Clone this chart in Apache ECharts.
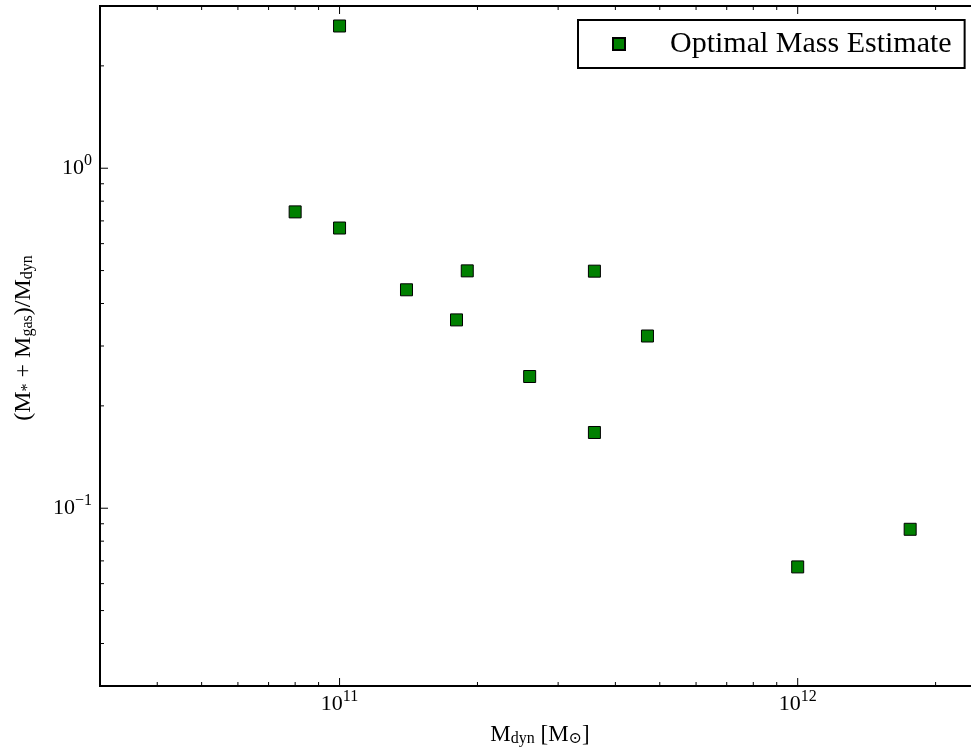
<!DOCTYPE html>
<html><head><meta charset="utf-8">
<script src="https://cdn.jsdelivr.net/npm/echarts@6/dist/echarts.min.js"></script>
<style>html,body{margin:0;padding:0;background:#fff}#c{width:971px;height:751px}</style>
</head><body><div id="c"></div>
<script>
// ---- data ----
const massDyn   = [1e11, 8e10, 1e11, 1.4e11, 1.9e11, 1.8e11, 3.6e11, 4.7e11, 2.6e11, 3.6e11, 1e12, 1.76e12];
const massRatio = [2.62, 0.744, 0.667, 0.439, 0.499, 0.358, 0.498, 0.321, 0.244, 0.167, 0.0672, 0.0867];
const seriesName = 'Optimal Mass Estimate';

const xMin = 3e10, xMax = 2.5e12, yMin = 0.03, yMax = 3;
const xMajorTicks = [1e11, 1e12];
const xMajorLabels = ['11', '12'];
const xMinorTicks = [4e10, 5e10, 6e10, 7e10, 8e10, 9e10, 2e11, 3e11, 4e11, 5e11, 6e11, 7e11, 8e11, 9e11, 2e12];
const yMajorTicks = [0.1, 1];
const yMajorLabels = ['\u22121', '0'];
const yMinorTicks = [0.04, 0.05, 0.06, 0.07, 0.08, 0.09, 0.2, 0.3, 0.4, 0.5, 0.6, 0.7, 0.8, 0.9, 2];

// ---- styling ----
const FONT = '"Liberation Serif", "DejaVu Serif", serif';
const MAJOR = 8, MINOR = 4;

function xTicks(len) {
  return function (params, api) {
    const cs = params.coordSys;
    const px = api.coord([api.value(0), yMin])[0];
    const st = { stroke: '#000', lineWidth: 1 };
    return { type: 'group', children: [
      { type: 'line', shape: { x1: px, y1: cs.y + cs.height, x2: px, y2: cs.y + cs.height - len }, style: st },
      { type: 'line', shape: { x1: px, y1: cs.y, x2: px, y2: cs.y + len }, style: st }
    ]};
  };
}
function yTicks(len) {
  return function (params, api) {
    const cs = params.coordSys;
    const py = api.coord([xMin, api.value(1)])[1];
    const st = { stroke: '#000', lineWidth: 1 };
    return { type: 'group', children: [
      { type: 'line', shape: { x1: cs.x, y1: py, x2: cs.x + len, y2: py }, style: st },
      { type: 'line', shape: { x1: cs.x + cs.width, y1: py, x2: cs.x + cs.width - len, y2: py }, style: st }
    ]};
  };
}
const tickRich = {
  b: { fontSize: 22, lineHeight: 30, fontFamily: FONT, color: '#000' },
  s: { fontSize: 16, lineHeight: 16, fontFamily: FONT, color: '#000', verticalAlign: 'top' }
};

const chart = echarts.init(document.getElementById('c'));
chart.setOption({
  backgroundColor: '#fff',
  animation: false,
  grid: { left: 100, top: 6, width: 880, height: 680, outerBoundsMode: 'none', containLabel: false,
          show: true, borderColor: '#000', borderWidth: 2, backgroundColor: 'transparent' },
  legend: {
    data: [seriesName],
    left: 578, top: 20,
    backgroundColor: '#fff',
    borderColor: '#000', borderWidth: 2, borderRadius: 0,
    padding: [8, 13, 8, 34],
    itemWidth: 12, itemHeight: 12,
    textStyle: { fontFamily: FONT, fontSize: 30, color: '#000', lineHeight: 32, padding: [0, 0, 0, 40] }
  },
  xAxis: {
    type: 'log', logBase: 10, min: xMin, max: xMax,
    axisLine: { show: false }, axisTick: { show: false }, axisLabel: { show: false }, splitLine: { show: false },
    name: 'M{s|dyn} [M{s|\u2299}]',
    nameLocation: 'middle', nameGap: 37,
    nameTextStyle: {
      fontFamily: FONT, fontSize: 23, lineHeight: 24, color: '#000',
      rich: { s: { fontFamily: FONT, fontSize: 16, lineHeight: 15, color: '#000', verticalAlign: 'bottom' } }
    }
  },
  yAxis: {
    type: 'log', logBase: 10, min: yMin, max: yMax,
    axisLine: { show: false }, axisTick: { show: false }, axisLabel: { show: false }, splitLine: { show: false },
    name: '(M{s|*} + M{s|gas})/M{s|dyn}',
    nameLocation: 'middle', nameGap: 64, nameRotate: 90,
    nameTextStyle: {
      fontFamily: FONT, fontSize: 24, lineHeight: 24, color: '#000', padding: [0, 0, 0, 16],
      rich: { s: { fontFamily: FONT, fontSize: 16, lineHeight: 15, color: '#000', verticalAlign: 'bottom' } }
    }
  },
  series: [
    {
      name: seriesName, type: 'scatter', symbol: 'rect', symbolSize: 12,
      itemStyle: { color: '#008000', borderColor: '#000', borderWidth: 1, opacity: 1 },
      data: massDyn.map((x, i) => [x, massRatio[i]]), z: 5
    },
    { name: 'xmajor', type: 'custom', silent: true, renderItem: xTicks(MAJOR), data: xMajorTicks.map(v => [v, yMin]), z: 4 },
    { name: 'xminor', type: 'custom', silent: true, renderItem: xTicks(MINOR), data: xMinorTicks.map(v => [v, yMin]), z: 4 },
    { name: 'ymajor', type: 'custom', silent: true, renderItem: yTicks(MAJOR), data: yMajorTicks.map(v => [xMin, v]), z: 4 },
    { name: 'yminor', type: 'custom', silent: true, renderItem: yTicks(MINOR), data: yMinorTicks.map(v => [xMin, v]), z: 4 },
    {
      name: 'xlabels', type: 'custom', silent: true, clip: false,
      data: xMajorTicks.map((v, i) => [v, yMin, i]),
      renderItem: function (params, api) {
        const cs = params.coordSys;
        const px = api.coord([api.value(0), yMin])[0];
        const lab = xMajorLabels[api.value(2)];
        return { type: 'text', x: px, y: cs.y + cs.height + 3,
          style: { text: '{b|10}{s|' + lab + '}', rich: tickRich, align: 'center', verticalAlign: 'top', fill: '#000' } };
      }
    },
    {
      name: 'ylabels', type: 'custom', silent: true, clip: false,
      data: yMajorTicks.map((v, i) => [xMin, v, i]),
      renderItem: function (params, api) {
        const cs = params.coordSys;
        const py = api.coord([xMin, api.value(1)])[1];
        const lab = yMajorLabels[api.value(2)];
        return { type: 'text', x: cs.x - 8, y: py,
          style: { text: '{b|10}{s|' + lab + '}', rich: tickRich, align: 'right', verticalAlign: 'middle', fill: '#000' } };
      }
    }
  ]
});
</script>
</body></html>
